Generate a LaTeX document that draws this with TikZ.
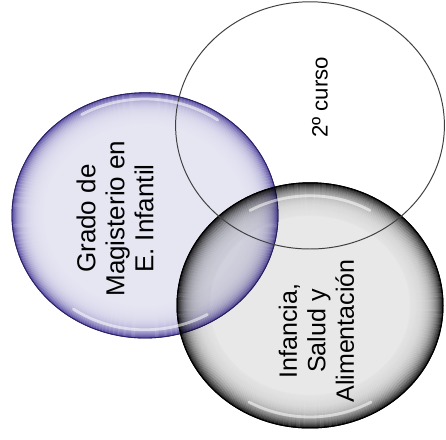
\documentclass[tikz,border=0pt]{standalone}
\usepackage{fontspec}
\setmainfont{Liberation Sans}
\usetikzlibrary{shapes.geometric}

\definecolor{lilacin}{HTML}{E6E6F3}
\definecolor{lilacrim}{HTML}{5247A0}
\definecolor{lilacedge}{HTML}{2A2164}
\definecolor{smokein}{HTML}{E8E8E8}
\definecolor{smokerim}{HTML}{262626}

\begin{document}
\begin{tikzpicture}[
    ball/.style={ellipse, minimum width=6.65cm, minimum height=6.13cm, inner sep=0pt},
    lilac/.style={ball, fill=lilacin, draw=lilacedge, line width=0.6pt},
    smoke/.style={ball, fill=smokein, draw=black, line width=0.7pt},
    hollow/.style={ball, minimum width=6.72cm, minimum height=6.18cm, draw=black!75, line width=0.7pt},
    ring/.style={line width=0.03cm},
    caption/.style={rotate=90, align=center, inner sep=0pt},
    gloss/.style={white, line width=2pt, opacity=0.55, line cap=round}
]
\useasboundingbox (0,0) rectangle (11.15,10.975);

% Blue circle with shaded rim
\node[lilac] (grado) at (3.625, 5.59) {};
\begin{scope}
\clip (grado.center) ellipse [x radius=3.325cm, y radius=3.065cm];
\foreach \k [evaluate=\k as \p using {100*exp(-\k/7)}] in {0,...,30}
    \draw[ring, lilacrim!\p!lilacin] (grado.center) ellipse [x radius=3.3125cm-\k*0.025cm, y radius=3.0525cm-\k*0.025cm];
\end{scope}
\draw[lilacedge, line width=0.6pt] (grado.center) ellipse [x radius=3.325cm, y radius=3.065cm];

% Grey circle, multiplied over the blue one
\begin{scope}[blend mode=multiply]
\node[smoke] (salud) at (7.75, 3.34) {};
\clip (salud.center) ellipse [x radius=3.325cm, y radius=3.065cm];
\foreach \k [evaluate=\k as \p using {100*exp(-\k/7.5)}] in {0,...,32}
    \draw[ring, smokerim!\p!white] (salud.center) ellipse [x radius=3.3125cm-\k*0.025cm, y radius=3.0525cm-\k*0.025cm];
\end{scope}
\draw[black, line width=0.7pt] (salud.center) ellipse [x radius=3.325cm, y radius=3.065cm];

% White circle
\node[hollow] (curso) at (7.75, 7.84) {};

% Highlights
\draw[gloss] ([shift={(55:3.17 and 2.91)}]grado.center) arc[start angle=55, end angle=120, x radius=3.17, y radius=2.91];
\draw[gloss] ([shift={(235:3.12 and 2.86)}]grado.center) arc[start angle=235, end angle=300, x radius=3.12, y radius=2.86];
\draw[gloss] ([shift={(60:3.0 and 2.74)}]salud.center) arc[start angle=60, end angle=120, x radius=3.0, y radius=2.74];
\draw[gloss] ([shift={(240:3.05 and 2.79)}]salud.center) arc[start angle=240, end angle=300, x radius=3.05, y radius=2.79];

% Labels
\node[caption, font=\fontsize{18.5}{20.6}\selectfont] (tgrado) at (2.875, 5.51) {Grado de\\Magisterio en\\E. Infantil};
\node[caption, font=\fontsize{15.8}{18}\selectfont] (tcurso) at (8.0, 8.54) {2º curso};
\node[caption, font=\fontsize{17.8}{20.3}\selectfont] (tsalud) at (7.91, 2.70) {Infancia,\\Salud y\\Alimentación};

\end{tikzpicture}
\end{document}
